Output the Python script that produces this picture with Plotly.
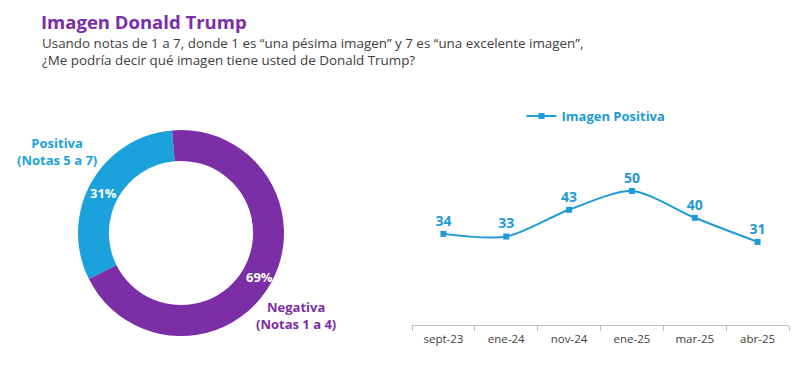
import plotly.graph_objects as go

# Donut data
pie_labels = ["Positiva (Notas 5 a 7)", "Negativa (Notas 1 a 4)"]
pie_values = [31, 69]
pie_colors = ["#1BA1DC", "#7B2EA6"]

# Line data
months = ["sept-23", "ene-24", "nov-24", "ene-25", "mar-25", "abr-25"]
positive_image = [34, 33, 43, 50, 40, 31]

# page body has an 8px margin: figure is drawn from (8, 8)
OFF = 8
W, H = 800 - OFF, 391 - OFF


def px(x):
    return (x - OFF) / W


def py(y):
    return 1 - (y - OFF) / H


BLUE = "#1E9AD6"
PURPLE = "#7B2EA6"
GRAY = "#404040"
FONT = "Open Sans"

fig = go.Figure()

fig.add_trace(go.Pie(
    labels=pie_labels, values=pie_values, sort=False,
    direction="clockwise", rotation=-5 - 360 * pie_values[0] / sum(pie_values),
    hole=0.70,
    marker=dict(colors=pie_colors, line=dict(width=0)),
    textposition="none",
    domain=dict(x=[px(78), px(284)], y=[py(336), py(130)]),
    showlegend=False, hoverinfo="label+percent",
))

fig.add_trace(go.Scatter(
    x=months, y=positive_image, name="Imagen Positiva",
    mode="lines+markers+text",
    line=dict(color=BLUE, width=2, shape="spline", smoothing=0.8),
    marker=dict(symbol="square", size=6, color=BLUE),
    text=[str(v) for v in positive_image], textposition="top center",
    textfont=dict(family=FONT, size=14, color=BLUE, weight="bold"),
    xaxis="x", yaxis="y",
))

pct_font = dict(family=FONT, size=13, color="white", weight="bold")

fig.update_layout(
    width=W, height=H,
    margin=dict(l=0, r=0, t=0, b=0),
    paper_bgcolor="white", plot_bgcolor="white",
    font=dict(family=FONT, color=GRAY),
    xaxis=dict(
        domain=[px(412), px(789)], anchor="y",
        range=[-0.5, len(months) - 0.5],
        showgrid=False, showline=True, linecolor="#BFBFBF", linewidth=1,
        ticks="outside", tickson="boundaries", ticklen=5, tickcolor="#BFBFBF",
        ticklabelstandoff=3,
        tickfont=dict(family=FONT, size=11.5, color=GRAY),
        fixedrange=True,
    ),
    yaxis=dict(
        domain=[py(325), py(57)], anchor="x",
        range=[0, 100], visible=False, fixedrange=True,
    ),
    showlegend=True,
    legend=dict(
        orientation="h", x=px(521.5), y=py(116), xanchor="left", yanchor="middle",
        font=dict(family=FONT, size=13, color=BLUE, weight="bold"),
        bgcolor="rgba(0,0,0,0)",
    ),
    annotations=[
        dict(text="Imagen Donald Trump", x=px(40), y=1, xref="paper", yref="paper",
             xanchor="left", yanchor="top", showarrow=False, borderpad=0,
             font=dict(family=FONT, size=18.5, color=PURPLE, weight="bold")),
        dict(text="Usando notas de 1 a 7, donde 1 es “una pésima imagen” y 7 es “una excelente imagen”,"
                  "<br>¿Me podría decir qué imagen tiene usted de Donald Trump?",
             x=px(41), y=py(51.5), xref="paper", yref="paper",
             xanchor="left", yanchor="middle", showarrow=False, align="left", borderpad=0,
             font=dict(family=FONT, size=13.4, color=GRAY)),
        dict(text="Positiva<br>(Notas 5 a 7)", x=px(57), y=py(151), xref="paper", yref="paper",
             xanchor="center", yanchor="middle", showarrow=False, align="center",
             font=dict(family=FONT, size=13, color="#1BA1DC", weight="bold")),
        dict(text="Negativa<br>(Notas 1 a 4)", x=px(296), y=py(315), xref="paper", yref="paper",
             xanchor="center", yanchor="middle", showarrow=False, align="center",
             font=dict(family=FONT, size=13, color=PURPLE, weight="bold")),
        dict(text=f"{pie_values[0]}%", x=px(103), y=py(193), xref="paper", yref="paper",
             xanchor="center", yanchor="middle", showarrow=False, font=pct_font),
        dict(text=f"{pie_values[1]}%", x=px(259), y=py(277), xref="paper", yref="paper",
             xanchor="center", yanchor="middle", showarrow=False, font=pct_font),
    ],
)

fig.write_html("out.html")
